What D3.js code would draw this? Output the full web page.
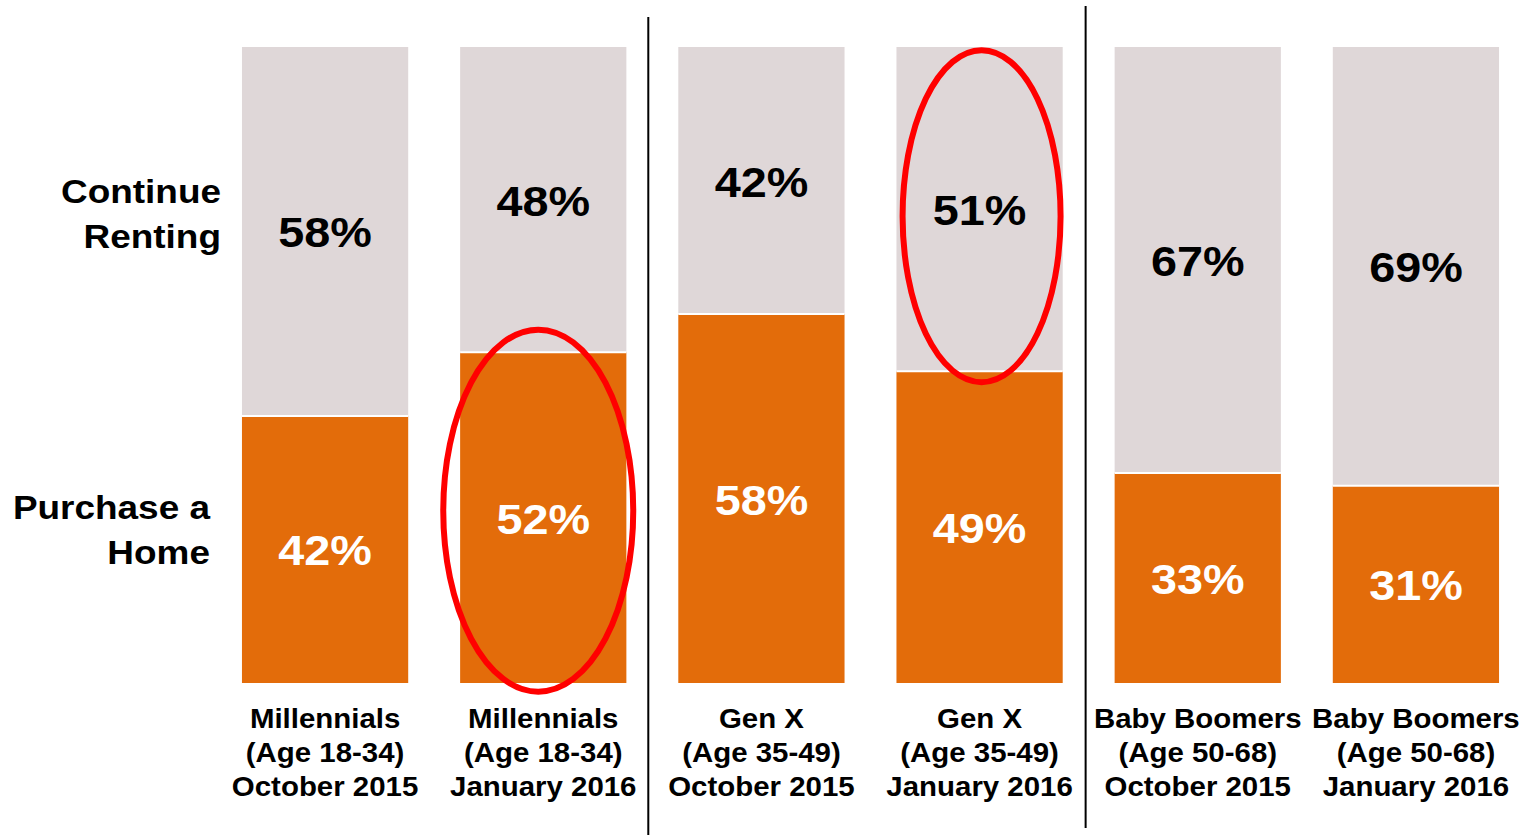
<!DOCTYPE html>
<html>
<head>
<meta charset="utf-8">
<script src="https://cdn.jsdelivr.net/npm/d3@7"></script>
<style>
  body { margin: 0; background: #fff; }
  text { font-family: "Liberation Sans", Arial, sans-serif; font-weight: bold; }
</style>
</head>
<body>
<div id="chart"></div>
<script>
// data
const categories = [
  ['Millennials', '(Age 18-34)', 'October 2015'],
  ['Millennials', '(Age 18-34)', 'January 2016'],
  ['Gen X', '(Age 35-49)', 'October 2015'],
  ['Gen X', '(Age 35-49)', 'January 2016'],
  ['Baby Boomers', '(Age 50-68)', 'October 2015'],
  ['Baby Boomers', '(Age 50-68)', 'January 2016']
];
const purchaseHome = [42, 52, 58, 49, 33, 31];
const continueRenting = [58, 48, 42, 51, 67, 69];
const seriesLabels = [['Continue', 'Renting'], ['Purchase a', 'Home']];
const highlighted = [{ bar: 1, series: 'purchase' }, { bar: 3, series: 'renting' }];

const width = 1525, height = 835;
const COLORS = { purchase: '#E36C0A', renting: '#DFD7D8' };

const svg = d3.select('#chart')
  .append('svg')
  .attr('width', width)
  .attr('height', height);

const x = d3.scaleBand()
  .domain(d3.range(categories.length))
  .range([216, 1525])
  .paddingInner(0.238)
  .paddingOuter(0.119);

const y = d3.scaleLinear()
  .domain([0, 100])
  .range([683, 47]);

const cx = i => x(i) + x.bandwidth() / 2;

// text in the source is a bit wide, so stretch it horizontally
function stretchedText(sel, tx, ty, sx) {
  return sel.append('text')
    .attr('transform', `translate(${tx},${ty}) scale(${sx},1)`);
}

const bars = svg.selectAll('.bar')
  .data(categories.map((c, i) => ({ i, p: purchaseHome[i], r: continueRenting[i] })))
  .join('g')
  .attr('class', 'bar');

// renting segment (top)
bars.append('rect')
  .attr('x', d => x(d.i))
  .attr('y', y(100))
  .attr('width', x.bandwidth())
  .attr('height', d => y(d.p) - y(100))
  .attr('fill', COLORS.renting);

// purchase segment (bottom)
bars.append('rect')
  .attr('x', d => x(d.i))
  .attr('y', d => y(d.p))
  .attr('width', x.bandwidth())
  .attr('height', d => y(0) - y(d.p))
  .attr('fill', COLORS.purchase);

// white line between segments
bars.append('line')
  .attr('x1', d => x(d.i))
  .attr('x2', d => x(d.i) + x.bandwidth())
  .attr('y1', d => y(d.p))
  .attr('y2', d => y(d.p))
  .attr('stroke', '#fff')
  .attr('stroke-width', 2);

bars.each(function (d) {
  const g = d3.select(this);
  stretchedText(g, cx(d.i), (y(100) + y(d.p)) / 2 + 16, 1.1)
    .attr('text-anchor', 'middle')
    .attr('font-size', 42.5)
    .attr('fill', '#000')
    .text(d.r + '%');
  stretchedText(g, cx(d.i), (y(d.p) + y(0)) / 2 + 16, 1.1)
    .attr('text-anchor', 'middle')
    .attr('font-size', 42.5)
    .attr('fill', '#fff')
    .text(d.p + '%');

  // category label
  const t = stretchedText(g, cx(d.i), 728, 1.04)
    .attr('text-anchor', 'middle')
    .attr('font-size', 28.3)
    .attr('fill', '#000');
  categories[d.i].forEach((line, k) => {
    t.append('tspan').attr('x', 0).attr('y', k * 34).text(line);
  });
});

// series labels on the left
const leftLabels = [
  { lines: seriesLabels[0], x: 221, y: 203 },
  { lines: seriesLabels[1], x: 210, y: 519 }
];
leftLabels.forEach(l => {
  const t = stretchedText(svg, l.x, l.y, 1.12)
    .attr('text-anchor', 'end')
    .attr('font-size', 33)
    .attr('fill', '#000');
  l.lines.forEach((line, k) => {
    t.append('tspan').attr('x', 0).attr('y', k * 45).text(line);
  });
});

// group dividers
const dividers = [
  { x: x(2) - 30, y1: 17, y2: 835 },
  { x: x(4) - 29, y1: 6, y2: 828 }
];
svg.selectAll('.divider')
  .data(dividers)
  .join('line')
  .attr('class', 'divider')
  .attr('x1', d => d.x)
  .attr('x2', d => d.x)
  .attr('y1', d => d.y1)
  .attr('y2', d => d.y2)
  .attr('stroke', '#000')
  .attr('stroke-width', 2);

// red highlight ellipses
svg.selectAll('.hl')
  .data(highlighted)
  .join('ellipse')
  .attr('class', 'hl')
  .attr('cx', d => cx(d.bar) + (d.series === 'purchase' ? -5 : 2))
  .attr('cy', d => d.series === 'purchase'
    ? (y(purchaseHome[d.bar]) + y(0)) / 2 - 7
    : (y(100) + y(purchaseHome[d.bar])) / 2 + 7)
  .attr('rx', d => d.series === 'purchase' ? 95 : 79)
  .attr('ry', d => d.series === 'purchase' ? 181 : 166)
  .attr('fill', 'none')
  .attr('stroke', '#FF0000')
  .attr('stroke-width', 6);
</script>
</body>
</html>
